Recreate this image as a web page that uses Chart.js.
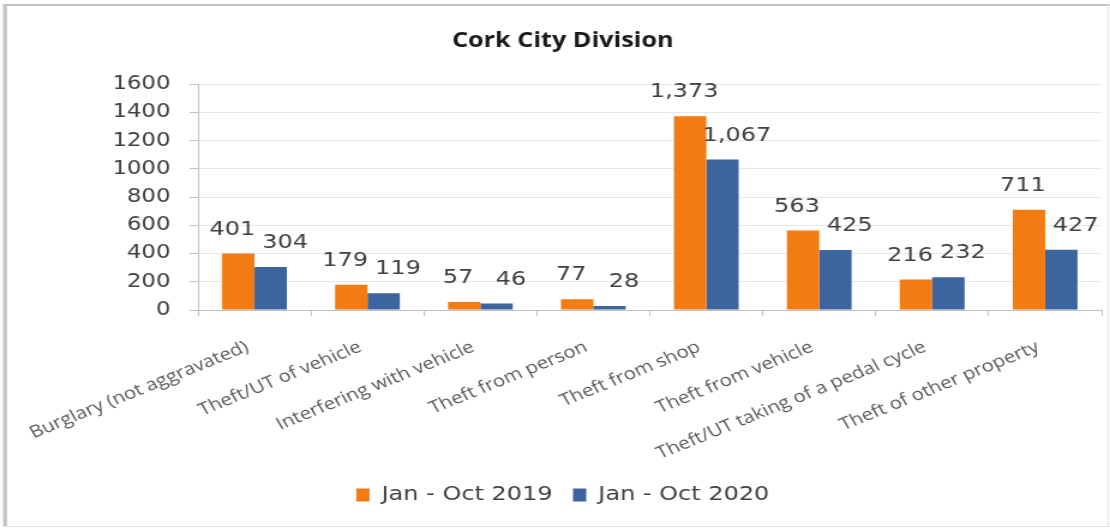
<!DOCTYPE html>
<html>
<head>
<meta charset="utf-8">
<script src="https://cdn.jsdelivr.net/npm/chart.js@4.4.0/dist/chart.umd.min.js"></script>
<style>
  html, body { margin: 0; padding: 0; background: #fff; overflow: hidden; }
  /* the source picture is stretched sideways, so draw narrow and stretch */
  #wrap { width: 925px; height: 529px; transform: scaleX(1.2); transform-origin: 0 0; }
</style>
</head>
<body>
<div id="wrap"><canvas id="crime-canvas" width="925" height="529"></canvas></div>
<script>
const categories = [
  "Burglary (not aggravated)",
  "Theft/UT of vehicle",
  "Interfering with vehicle",
  "Theft from person",
  "Theft from shop",
  "Theft from vehicle",
  "Theft/UT taking of a pedal cycle",
  "Theft of other property"
];
const values2019 = [401, 179, 57, 77, 1373, 563, 216, 711];
const values2020 = [304, 119, 46, 28, 1067, 425, 232, 427];
const seriesNames = ["Jan - Oct 2019", "Jan - Oct 2020"];
const yMax = 1600;
const yStep = 200;

var crimeChart;

// white card with the grey frame round it
const framePlugin = {
  id: 'frame',
  beforeDraw(chart) {
    const ctx = chart.ctx;
    ctx.save();
    ctx.fillStyle = '#fff';
    ctx.fillRect(0, 0, chart.width, chart.height);
    ctx.fillStyle = '#c4c4c4';
    ctx.fillRect(2.5, 4, chart.width - 2.5, 2);
    ctx.fillRect(2.5, 4, 3.3, chart.height - 6);
    ctx.fillStyle = '#e4e4e4';
    ctx.fillRect(chart.width - 2, 4, 1, chart.height - 6);
    ctx.fillRect(2.5, chart.height - 3, chart.width, 1);
    ctx.restore();
  }
};

// numbers above the bars
const valueLabelPlugin = {
  id: 'valueLabels',
  afterDatasetsDraw(chart) {
    const ctx = chart.ctx;
    ctx.save();
    ctx.font = '20px "DejaVu Sans"';
    ctx.fillStyle = '#404040';
    ctx.textAlign = 'center';
    ctx.textBaseline = 'middle';
    chart.data.datasets.forEach((ds, i) => {
      const meta = chart.getDatasetMeta(i);
      meta.data.forEach((bar, j) => {
        ctx.fillText(ds.data[j].toLocaleString('en-US'), bar.x + ds.labelShift, bar.y - 24);
      });
    });
    ctx.restore();
  }
};

main();

function main() {
  crimeChart = setCrimeChart();
}

function setCrimeChart() {
  var ctx = document.getElementById("crime-canvas");
  return new Chart(ctx, {
    type: 'bar',
    data: {
      labels: categories,
      datasets: [
        {
          label: seriesNames[0],
          backgroundColor: '#f27b13',
          data: values2019,
          labelShift: -5,
        },
        {
          label: seriesNames[1],
          backgroundColor: '#3c65a0',
          data: values2020,
          labelShift: 12,
        }
      ]
    },
    options: {
      responsive: false,
      animation: false,
      categoryPercentage: 0.573,
      barPercentage: 1,
      layout: { padding: { left: 20, right: 7, top: 0, bottom: 14 } },
      plugins: {
        title: {
          display: true,
          text: 'Cork City Division',
          color: '#1a1a1a',
          font: { family: 'Open Sans', size: 21, weight: 'bold' },
          padding: { top: 28, bottom: 31 }
        },
        legend: {
          position: 'bottom',
          labels: {
            boxWidth: 11,
            boxHeight: 13,
            padding: 17,
            color: '#404040',
            font: { family: 'DejaVu Sans', size: 20 }
          }
        },
        tooltip: { enabled: false }
      },
      scales: {
        x: {
          grid: { offset: true, drawOnChartArea: false, color: '#bfbfbf', tickLength: 6 },
          border: { color: '#bfbfbf' },
          ticks: {
            autoSkip: false,
            minRotation: 26,
            maxRotation: 26,
            padding: 21,
            labelOffset: -6,
            color: '#595959',
            font: { family: 'Open Sans', size: 17 }
          },
          afterFit: (scale) => {
            scale.height = 158;
            // let the long first label hang out to the left without moving the plot
            scale.paddingLeft = 0;
            scale.paddingRight = 0;
          }
        },
        y: {
          min: 0,
          max: yMax,
          ticks: {
            stepSize: yStep,
            padding: 16,
            color: '#404040',
            font: { family: 'DejaVu Sans', size: 19 },
            callback: (v) => String(v)
          },
          grid: { color: '#e8e8e8', tickColor: '#bfbfbf', tickLength: 7 },
          border: { color: '#bfbfbf' },
          afterFit: (scale) => { scale.width = 145; }
        }
      }
    },
    plugins: [framePlugin, valueLabelPlugin]
  });
}
</script>
</body>
</html>
